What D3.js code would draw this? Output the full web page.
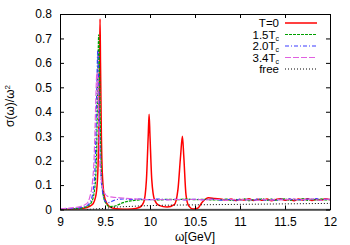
<!DOCTYPE html>
<html>
<head>
<meta charset="utf-8">
<script src="https://cdn.jsdelivr.net/npm/d3@7"></script>
<style>
  body { margin: 0; background: #fff; }
  svg { font-family: "Liberation Sans", Arial, sans-serif; }
</style>
</head>
<body>
<script>
// spectral functions, [omega GeV, sigma/omega^2]
const xTicks = [9, 9.5, 10, 10.5, 11, 11.5, 12]
const yTicks = [0, 0.1, 0.2, 0.3, 0.4, 0.5, 0.6, 0.7, 0.8]

const redHead = [
    [9.0, 0.0], [9.2, 0.003], [9.3, 0.008], [9.36, 0.02], [9.4, 0.06], [9.42, 0.15], [9.43, 0.3],
    [9.44, 0.6], [9.445, 0.78], [9.45, 0.6], [9.46, 0.3], [9.47, 0.15], [9.49, 0.06], [9.52, 0.025],
    [9.56, 0.01], [9.62, 0.003], [9.7, 0.001], [9.8, 0.002], [9.88, 0.008], [9.93, 0.03], [9.96, 0.12],
    [9.98, 0.3], [9.99, 0.39], [10.0, 0.3], [10.02, 0.12], [10.05, 0.04], [10.1, 0.017], [10.19, 0.01],
    [10.27, 0.02], [10.31, 0.08], [10.34, 0.22], [10.36, 0.30], [10.375, 0.22], [10.4, 0.06],
    [10.43, 0.015], [10.48, 0.002], [10.53, 0.005], [10.58, 0.03], [10.65, 0.048], [10.72, 0.045]
]
const greenHead = [
    [9.0, 0.001], [9.2, 0.004], [9.3, 0.012], [9.35, 0.03], [9.38, 0.07], [9.4, 0.16], [9.41, 0.3],
    [9.42, 0.55], [9.43, 0.715], [9.44, 0.55], [9.45, 0.3], [9.46, 0.15], [9.48, 0.06], [9.51, 0.025],
    [9.55, 0.012], [9.6, 0.013], [9.65, 0.02], [9.7, 0.028], [9.8, 0.036], [9.9, 0.04], [10.0, 0.041],
    [10.1, 0.039], [10.2, 0.042], [10.3, 0.04], [10.4, 0.043], [10.5, 0.04], [10.6, 0.042], [10.7, 0.039]
]
const blueHead = [
    [9.0, 0.002], [9.2, 0.006], [9.3, 0.016], [9.34, 0.035], [9.37, 0.08], [9.39, 0.18], [9.4, 0.32],
    [9.41, 0.52], [9.42, 0.65], [9.43, 0.52], [9.44, 0.32], [9.45, 0.17], [9.47, 0.08], [9.5, 0.035],
    [9.53, 0.028], [9.57, 0.032], [9.62, 0.04], [9.7, 0.043], [9.8, 0.041], [9.9, 0.043], [10.0, 0.04],
    [10.1, 0.043], [10.2, 0.04], [10.3, 0.042], [10.4, 0.039], [10.5, 0.042], [10.6, 0.04], [10.7, 0.043]
]
const magentaHead = [
    [9.0, 0.003], [9.2, 0.01], [9.3, 0.025], [9.33, 0.05], [9.36, 0.11], [9.38, 0.22], [9.39, 0.34],
    [9.4, 0.48], [9.41, 0.56], [9.42, 0.5], [9.43, 0.36], [9.44, 0.22], [9.46, 0.12], [9.49, 0.07],
    [9.53, 0.054], [9.6, 0.05], [9.7, 0.047], [9.8, 0.044], [9.9, 0.042], [10.0, 0.04], [10.1, 0.041],
    [10.2, 0.039], [10.3, 0.041], [10.4, 0.04], [10.5, 0.042], [10.6, 0.039], [10.7, 0.041]
]
const freeCurve = [
    [9.3, 0.0], [9.4, 0.002], [9.5, 0.005], [9.6, 0.009], [9.8, 0.013], [10.0, 0.016], [10.5, 0.019],
    [11.0, 0.021], [11.5, 0.023], [12.0, 0.025]
]

// noisy continuum above 10.75
const tailOmega = [10.8, 10.85, 10.9, 10.95, 11.0, 11.05, 11.1, 11.15, 11.2, 11.25, 11.3, 11.35, 11.4,
    11.45, 11.5, 11.55, 11.6, 11.65, 11.7, 11.75, 11.8, 11.85, 11.9, 11.95, 12.0]
const redTail = [0.042, 0.038, 0.043, 0.037, 0.041, 0.039, 0.044, 0.037, 0.042, 0.038, 0.043, 0.036,
    0.041, 0.044, 0.038, 0.042, 0.036, 0.043, 0.039, 0.044, 0.037, 0.042, 0.038, 0.044, 0.04]
const greenTail = [0.04, 0.043, 0.037, 0.042, 0.038, 0.044, 0.036, 0.041, 0.039, 0.044, 0.037, 0.043,
    0.038, 0.041, 0.044, 0.037, 0.042, 0.039, 0.045, 0.037, 0.043, 0.038, 0.044, 0.039, 0.042]
const blueTail = [0.038, 0.042, 0.04, 0.036, 0.043, 0.039, 0.042, 0.037, 0.044, 0.04, 0.038, 0.042,
    0.037, 0.043, 0.039, 0.044, 0.038, 0.041, 0.037, 0.043, 0.04, 0.045, 0.038, 0.042, 0.04]
const magentaTail = [0.041, 0.037, 0.042, 0.04, 0.038, 0.043, 0.039, 0.041, 0.037, 0.042, 0.04, 0.038,
    0.043, 0.039, 0.042, 0.04, 0.044, 0.038, 0.042, 0.039, 0.044, 0.04, 0.037, 0.043, 0.041]

const joinTail = (head, tail) => head.concat(tailOmega.map((w, i) => [w, tail[i]]))

const series = [
    {label: 'T=0', sub: '', color: '#ff0000', width: 1.5, dash: null, data: joinTail(redHead, redTail)},
    {label: '1.5T', sub: 'c', color: '#00a000', width: 1.2, dash: '3,1', data: joinTail(greenHead, greenTail)},
    {label: '2.0T', sub: 'c', color: '#3a3aff', width: 1.2, dash: '4,2,1,2', data: joinTail(blueHead, blueTail)},
    {label: '3.4T', sub: 'c', color: '#e060e0', width: 1.2, dash: '6,2', data: joinTail(magentaHead, magentaTail)},
    {label: 'free', sub: '', color: '#000000', width: 1, dash: '1,2', data: freeCurve}
]

const W = 350, H = 245
const mLeft = 60, mRight = 330, mTop = 14, mBottom = 209.5

const x = d3.scaleLinear().domain([9, 12]).range([mLeft, mRight])
const y = d3.scaleLinear().domain([0, 0.8]).range([mBottom, mTop])

const svg = d3.select('body').append('svg')
    .attr('width', W)
    .attr('height', H)
    .style('font-size', '11px')

svg.append('defs').append('clipPath').attr('id', 'plot')
    .append('rect')
    .attr('x', mLeft).attr('y', mTop)
    .attr('width', mRight - mLeft).attr('height', mBottom - mTop)

// zero line
svg.append('line')
    .attr('x1', mLeft).attr('x2', mRight)
    .attr('y1', y(0)).attr('y2', y(0))
    .attr('stroke', '#999').attr('stroke-width', 1.5)

const line = d3.line()
    .x(d => x(d[0]))
    .y(d => y(d[1]))
    .curve(d3.curveMonotoneX)

svg.append('g')
    .attr('clip-path', 'url(#plot)')
    .attr('fill', 'none')
    .selectAll('path')
    .data(series)
    .join('path')
    .attr('d', d => line(d.data))
    .attr('stroke', d => d.color)
    .attr('stroke-width', d => d.width)
    .attr('stroke-dasharray', d => d.dash)

// axes, gnuplot style: inward ticks mirrored on all sides
const tickLen = 4
const axes = [
    {axis: d3.axisBottom(x), pos: `translate(0,${mBottom})`, labels: true},
    {axis: d3.axisTop(x), pos: `translate(0,${mTop})`, labels: false},
    {axis: d3.axisLeft(y), pos: `translate(${mLeft},0)`, labels: true},
    {axis: d3.axisRight(y), pos: `translate(${mRight},0)`, labels: false}
]
axes.forEach(({axis, pos, labels}, i) => {
    const isX = i < 2
    axis.tickValues(isX ? xTicks : yTicks)
        .tickSizeInner(-tickLen)
        .tickSizeOuter(0)
        .tickPadding(8)
        .tickFormat(labels ? d3.format('') : () => '')
    const g = svg.append('g').attr('transform', pos).call(axis)
    g.select('.domain').attr('stroke', '#000')
    g.selectAll('.tick line').attr('stroke', '#000')
    g.selectAll('.tick text')
        .attr('fill', '#000')
        .style('font-size', '12px')
        .style('font-family', '"Liberation Sans", Arial, sans-serif')
})

svg.append('text')
    .attr('x', (mLeft + mRight) / 2)
    .attr('y', 241)
    .attr('text-anchor', 'middle')
    .style('font-size', '12px')
    .text('ω[GeV]')

svg.append('text')
    .attr('transform', 'translate(14,106) rotate(-90)')
    .attr('text-anchor', 'middle')
    .style('font-size', '12px')
    .text('σ(ω)/ω')
    .append('tspan')
    .attr('dy', '-0.45em')
    .style('font-size', '8px')
    .text('2')

// legend
const legend = svg.append('g')
    .selectAll('g')
    .data(series)
    .join('g')
    .attr('transform', (d, i) => `translate(0,${23 + i * 11.5})`)

legend.append('line')
    .attr('x1', 285).attr('x2', 317)
    .attr('stroke', d => d.color)
    .attr('stroke-width', d => d.width)
    .attr('stroke-dasharray', d => d.dash)

const lt = legend.append('text')
    .attr('x', 279)
    .attr('y', 4)
    .attr('text-anchor', 'end')
    .style('font-size', '11.5px')
lt.append('tspan').text(d => d.label)
lt.append('tspan')
    .attr('dy', '2')
    .style('font-size', '7px')
    .text(d => d.sub)
</script>
</body>
</html>
